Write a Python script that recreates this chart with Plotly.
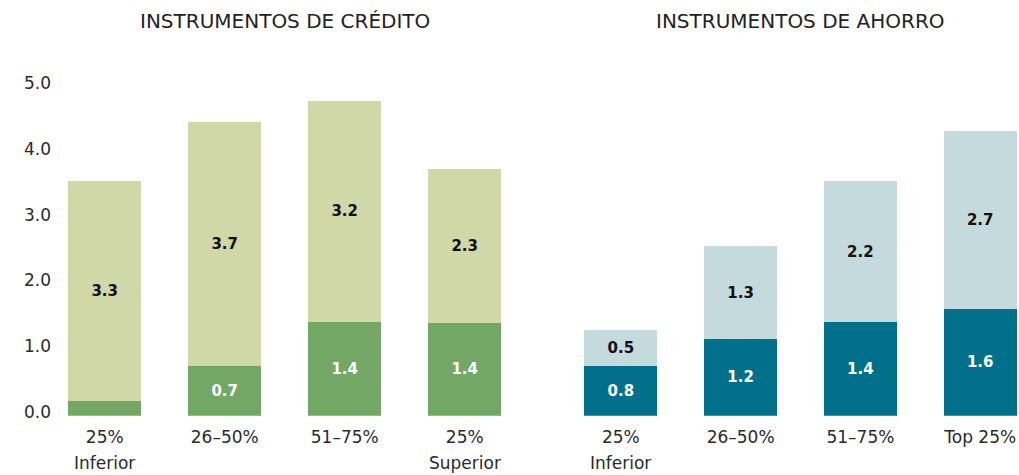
import plotly.graph_objects as go

# ---- data ----
credit_categories = ["25%", "26–50%", "51–75%", "25%"]
credit_second_line = ["Inferior", "", "", "Superior"]
credit_base = [0.23, 0.76, 1.43, 1.41]
credit_top = [3.34, 3.71, 3.36, 2.34]
credit_base_labels = ["", "0.7", "1.4", "1.4"]
credit_top_labels = ["3.3", "3.7", "3.2", "2.3"]

saving_categories = ["25%", "26–50%", "51–75%", "Top 25%"]
saving_second_line = ["Inferior", "", "", ""]
saving_base = [0.76, 1.17, 1.42, 1.62]
saving_top = [0.54, 1.41, 2.15, 2.71]
saving_base_labels = ["0.8", "1.2", "1.4", "1.6"]
saving_top_labels = ["0.5", "1.3", "2.2", "2.7"]

y_ticks = [0, 1, 2, 3, 4, 5]

# ---- style ----
W, H = 1019, 475
C_DARK_GREEN = "#72A765"
C_LIGHT_GREEN = "#CFD8A6"
C_TEAL = "#02708A"
C_LIGHT_TEAL = "#C5DADC"
FONT = "DejaVu Sans"
BAR_W = 0.607
TXT = "#2a2a2a"

idx = list(range(4))
fig = go.Figure()


def add_stack(xa, ya, base, top, base_lab, top_lab, c_base, c_top):
    fig.add_trace(go.Bar(
        x=idx, y=base, xaxis=xa, yaxis=ya, width=BAR_W,
        marker=dict(color=c_base, line=dict(width=0)),
        text=base_lab, textposition="inside", insidetextanchor="middle",
        textangle=0, constraintext="none",
        textfont=dict(family=FONT, size=15, color="white", weight="bold"),
        showlegend=False, hoverinfo="skip"))
    fig.add_trace(go.Bar(
        x=idx, y=top, xaxis=xa, yaxis=ya, width=BAR_W,
        marker=dict(color=c_top, line=dict(width=0)),
        text=top_lab, textposition="inside", insidetextanchor="middle",
        textangle=0, constraintext="none",
        textfont=dict(family=FONT, size=15, color="#111111", weight="bold"),
        showlegend=False, hoverinfo="skip"))


add_stack("x", "y", credit_base, credit_top, credit_base_labels, credit_top_labels,
          C_DARK_GREEN, C_LIGHT_GREEN)
add_stack("x2", "y2", saving_base, saving_top, saving_base_labels, saving_top_labels,
          C_TEAL, C_LIGHT_TEAL)

# pixel geometry
left_c0, left_pitch = 104.7, 120.0
right_c0, right_pitch = 620.8, 119.8
L_dom = (58, 530)
R_dom = (560, 1019)
y0_px, y5_px = 415.7, 87.2

xa_common = dict(showgrid=False, zeroline=False, showline=False, ticks="",
                 tickmode="array", tickvals=idx,
                 tickfont=dict(family=FONT, size=17, color=TXT),
                 automargin=False, fixedrange=True, ticklabelstandoff=9)
ya_common = dict(showgrid=False, zeroline=False, showline=False, ticks="",
                 range=[0, 5], tickvals=y_ticks, automargin=False, fixedrange=True)

fig.update_layout(
    width=W, height=H,
    margin=dict(l=0, r=0, t=0, b=0),
    paper_bgcolor="white", plot_bgcolor="white",
    barmode="stack",
    xaxis=dict(**xa_common, domain=[L_dom[0] / W, L_dom[1] / W],
               range=[(L_dom[0] - left_c0) / left_pitch, (L_dom[1] - left_c0) / left_pitch],
               ticktext=credit_categories, anchor="y"),
    xaxis2=dict(**xa_common, domain=[R_dom[0] / W, R_dom[1] / W],
                range=[(R_dom[0] - right_c0) / right_pitch, (R_dom[1] - right_c0) / right_pitch],
                ticktext=saving_categories, anchor="y2"),
    yaxis=dict(**ya_common, domain=[1 - y0_px / H, 1 - y5_px / H], anchor="x",
               tickformat=".1f", ticklabelshift=-4, ticklabelstandoff=6,
               tickfont=dict(family=FONT, size=17, color=TXT)),
    yaxis2=dict(**ya_common, domain=[1 - y0_px / H, 1 - y5_px / H], anchor="x2",
                showticklabels=False),
)

annotations = [
    dict(text="INSTRUMENTOS DE CRÉDITO", x=1.5, xref="x", y=1 - 21 / H, yref="paper",
         showarrow=False, font=dict(family=FONT, size=20, color="#222222"),
         xanchor="center", yanchor="middle"),
    dict(text="INSTRUMENTOS DE AHORRO", x=1.5, xref="x2", y=1 - 21 / H, yref="paper",
         showarrow=False, font=dict(family=FONT, size=20, color="#222222"),
         xanchor="center", yanchor="middle"),
]
for xref, lines in (("x", credit_second_line), ("x2", saving_second_line)):
    for i, t in enumerate(lines):
        if t:
            annotations.append(dict(text=t, x=i, xref=xref, y=1 - 463.3 / H, yref="paper",
                                    showarrow=False,
                                    font=dict(family=FONT, size=17, color=TXT),
                                    xanchor="center", yanchor="middle"))
fig.update_layout(annotations=annotations)

fig.write_html("out.html", config={"displayModeBar": False},
               post_script="document.body.style.margin='0';")
